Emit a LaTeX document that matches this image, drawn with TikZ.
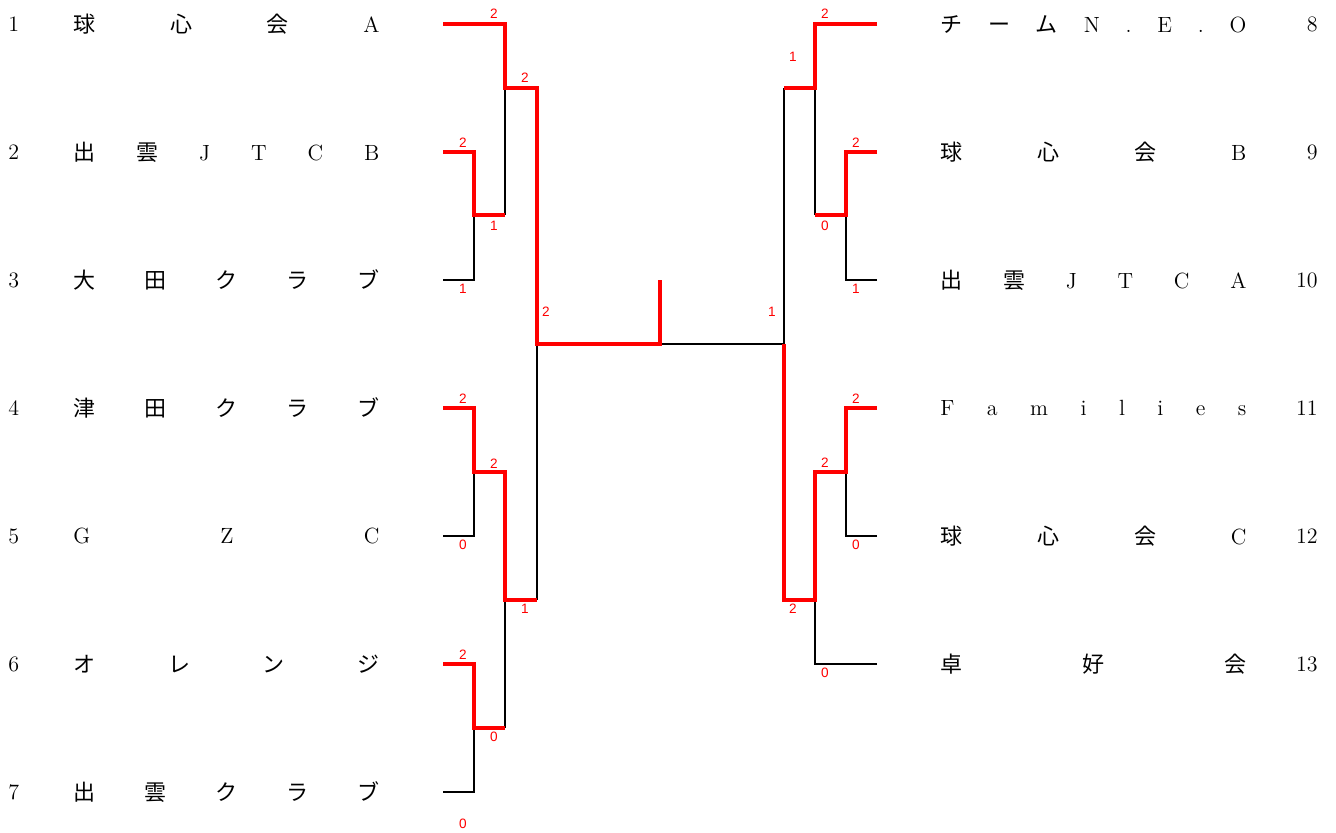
\documentclass[tikz,border=0pt]{standalone}
\usepackage{fontspec}
\newfontfamily\jpfont{Noto Sans CJK JP}
\newfontfamily\scorefont{Liberation Sans}
\usetikzlibrary{positioning}
\definecolor{WinRed}{RGB}{255,0,0}
\newcommand{\J}[1]{{\jpfont #1}}
\newcommand{\spreadname}[1]{\makebox[153pt][s]{#1}}

\begin{document}
\begin{tikzpicture}[x=0.5pt, y=-0.5pt, font=\fontsize{11}{13}\selectfont,
	win/.style={WinRed, line width=2.4pt},
	lose/.style={black, line width=1pt},
	score/.style={WinRed, font=\scorefont\fontsize{6.8}{7}\selectfont, inner sep=0pt},
	team/.style={inner sep=0pt}]
	\useasboundingbox (0,0) rectangle (1336,832);

	% equipos izquierda
	\foreach \n/\y/\nm in {1/24/{\J{球}\hfill\J{心}\hfill\J{会}\hfill A},
		2/152/{\J{出}\hfill\J{雲}\hfill J\hfill T\hfill C\hfill B},
		3/280/{\J{大}\hfill\J{田}\hfill\J{ク}\hfill\J{ラ}\hfill\J{ブ}},
		4/408/{\J{津}\hfill\J{田}\hfill\J{ク}\hfill\J{ラ}\hfill\J{ブ}},
		5/536/{G\hfill Z\hfill C},
		6/664/{\J{オ}\hfill\J{レ}\hfill\J{ン}\hfill\J{ジ}},
		7/792/{\J{出}\hfill\J{雲}\hfill\J{ク}\hfill\J{ラ}\hfill\J{ブ}}}{
		\node[team, anchor=west] (num\n) at (8,\y) {\n};
		\node[team, anchor=west] (team\n) at (73,\y) {\spreadname{\nm}};
	}
	% equipos derecha
	\foreach \n/\y/\nm in {8/24/{\J{チ}\hfill\J{ー}\hfill\J{ム}\hfill N\hfill .\hfill E\hfill .\hfill O},
		9/152/{\J{球}\hfill\J{心}\hfill\J{会}\hfill B},
		10/280/{\J{出}\hfill\J{雲}\hfill J\hfill T\hfill C\hfill A},
		11/408/{F\hfill a\hfill m\hfill i\hfill l\hfill i\hfill e\hfill s},
		12/536/{\J{球}\hfill\J{心}\hfill\J{会}\hfill C},
		13/664/{\J{卓}\hfill\J{好}\hfill\J{会}}}{
		\node[team, anchor=west] (team\n) at (940,\y) {\spreadname{\nm}};
		\node[team, anchor=east] (num\n) at (1318,\y) {\n};
	}

	% perdedores
	\draw[lose] (443,280) -- (474,280) -- (474,215);
	\draw[lose] (443,536) -- (474,536) -- (474,472);
	\draw[lose] (443,792) -- (474,792) -- (474,728);
	\draw[lose] (505,215) -- (505,88);
	\draw[lose] (505,728) -- (505,600);
	\draw[lose] (537,600) -- (537,344);
	\draw[lose] (660,344) -- (784,344);
	\draw[lose] (877,280) -- (846,280) -- (846,215);
	\draw[lose] (877,536) -- (846,536) -- (846,472);
	\draw[lose] (877,664) -- (815,664) -- (815,600);
	\draw[lose] (815,215) -- (815,88);
	\draw[lose] (784,88) -- (784,344);

	% ganadores
	\draw[win] (443,24) -- (505,24) -- (505,88) -- (537,88) -- (537,344) -- (660,344) -- (660,280);
	\draw[win] (443,152) -- (474,152) -- (474,215) -- (505,215);
	\draw[win] (443,408) -- (474,408) -- (474,472) -- (505,472) -- (505,600) -- (537,600);
	\draw[win] (443,664) -- (474,664) -- (474,728) -- (505,728);
	\draw[win] (877,24) -- (815,24) -- (815,88) -- (784,88);
	\draw[win] (877,152) -- (846,152) -- (846,215) -- (815,215);
	\draw[win] (877,408) -- (846,408) -- (846,472) -- (815,472) -- (815,600) -- (784,600) -- (784,344);

	% marcadores
	\foreach \x/\y/\s [count=\k] in {494/14/2, 525/78/2, 463/143/2, 494/226/1, 463/289/1,
		546/312/2, 463/399/2, 494/464/2, 463/545/0, 525/609/1, 463/655/2, 494/737/0,
		463/824/0, 825/14/2, 793/57/1, 856/143/2, 825/226/0, 856/289/1, 772/312/1,
		856/399/2, 825/463/2, 856/545/0, 793/609/2, 825/673/0}{
		\node[score] (sc\k) at (\x,\y) {\s};
	}
\end{tikzpicture}
\end{document}
